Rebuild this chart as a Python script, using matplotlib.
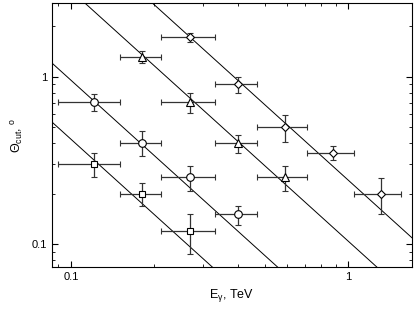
import matplotlib.pyplot as plt
import numpy as np

plt.rcParams['font.family'] = ['Liberation Sans', 'DejaVu Sans']
plt.rcParams['mathtext.default'] = 'regular'

# energy bins (TeV)
e_center = [0.121, 0.180, 0.269, 0.401, 0.593, 0.883, 1.31]
e_lo = [0.0897, 0.150, 0.211, 0.331, 0.47, 0.711, 1.05]
e_hi = [0.150, 0.211, 0.331, 0.47, 0.711, 1.05, 1.55]

# squares
sq_idx = [0, 1, 2]
sq_y = [0.300, 0.200, 0.120]
sq_lo = [0.253, 0.169, 0.0868]
sq_hi = [0.349, 0.231, 0.152]

# circles
ci_idx = [0, 1, 2, 3]
ci_y = [0.706, 0.401, 0.251, 0.151]
ci_lo = [0.626, 0.337, 0.208, 0.130]
ci_hi = [0.79, 0.475, 0.293, 0.169]

# triangles
tr_idx = [1, 2, 3, 4]
tr_y = [1.32, 0.708, 0.403, 0.252]
tr_lo = [1.21, 0.61, 0.35, 0.208]
tr_hi = [1.42, 0.80, 0.45, 0.293]

# diamonds
di_idx = [2, 3, 4, 5, 6]
di_y = [1.72, 0.908, 0.502, 0.351, 0.20]
di_lo = [1.62, 0.80, 0.41, 0.32, 0.151]
di_hi = [1.82, 1.0, 0.59, 0.386, 0.248]

# lines theta = A * E^-1.5
line_amp = [0.0134, 0.0302, 0.104, 0.241]
line_slope = -1.5

fig = plt.figure(figsize=(4.15, 3.16), dpi=100)
ax = fig.add_axes([0.125, 0.155, 0.868, 0.836])

e_line = np.logspace(np.log10(0.08), np.log10(1.8), 50)
for a in line_amp:
    ax.plot(e_line, a * e_line ** line_slope, color='black', lw=0.7)

series = [
    (sq_idx, sq_y, sq_lo, sq_hi, 's', 4.5),
    (ci_idx, ci_y, ci_lo, ci_hi, 'o', 5.5),
    (tr_idx, tr_y, tr_lo, tr_hi, '^', 5.5),
    (di_idx, di_y, di_lo, di_hi, 'D', 4.5),
]
for idx, y, lo, hi, m, ms in series:
    x = np.array([e_center[i] for i in idx])
    xl = np.array([e_lo[i] for i in idx])
    xh = np.array([e_hi[i] for i in idx])
    y = np.array(y)
    ax.errorbar(x, y, xerr=[x - xl, xh - x], yerr=[y - np.array(lo), np.array(hi) - y],
                fmt=m, ms=ms, mfc='white', mec='black', mew=0.8,
                ecolor='0.2', elinewidth=0.9, capsize=2, capthick=0.9, zorder=3)

ax.set_xscale('log')
ax.set_yscale('log')
ax.set_xlim(0.0854, 1.70)
ax.set_ylim(0.0728, 2.77)
ax.set_xticks([0.1, 1])
ax.set_xticklabels(['0.1', '1'])
ax.set_yticks([0.1, 1])
ax.set_yticklabels(['0.1', '1'])
ax.tick_params(which='both', direction='in', top=True, right=True, labelsize=8)
ax.tick_params(which='major', length=4)
ax.tick_params(which='minor', length=2.5)
ax.set_xlabel(r'E$_\gamma$, TeV', fontsize=9)
ax.set_ylabel(r'Θ$_{cut}$, $^o$', fontsize=9)

fig.savefig('out.png', dpi=100)
